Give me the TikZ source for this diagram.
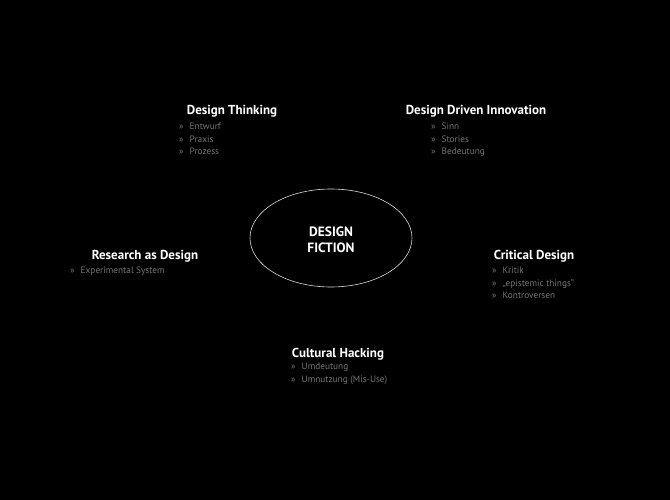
\documentclass[tikz,border=0pt]{standalone}
\usepackage{fontspec}
\setmainfont{PT Sans}
\usetikzlibrary{shapes.geometric}

\definecolor{itemgrey}{HTML}{747474}
\newcommand{\bul}{\makebox[10.5pt][l]{»}}

\tikzset{
	heading/.style={anchor=base, inner sep=0pt, text=white, font=\fontsize{13}{15}\selectfont\bfseries},
	itemlist/.style={anchor=north west, inner sep=0pt, align=left, text=itemgrey, font=\fontsize{9.3}{12.4}\selectfont}
}

\begin{document}
\begin{tikzpicture}[x=1pt, y=-1pt]
			\fill[black]	(0, 0) rectangle (670, 500);
			\useasboundingbox	(0, 0) rectangle (670, 500);

			% centre
			\node[draw=white!85!black, line width=0.6pt, ellipse, minimum width=162pt, minimum height=98pt, inner sep=0pt]	(fiction) at (331, 238) {};
			\node[text=white, align=center, font=\fontsize{13.5}{16}\selectfont\bfseries]	(fictiontext) at ([yshift=-2pt]fiction.center) {DESIGN\\FICTION};

			% design thinking
			\node[heading]	(thinking) at (232, 115) {Design Thinking};
			\node[itemlist]	(thinkinglist) at (179, 123) {\bul Entwurf\\\bul Praxis\\\bul Prozess};

			% design driven innovation
			\node[heading]	(innovation) at (476, 115) {Design Driven Innovation};
			\node[itemlist]	(innovationlist) at (431, 123) {\bul Sinn\\\bul Stories\\\bul Bedeutung};

			% research as design
			\node[heading]	(research) at (145, 259) {Research as Design};
			\node[itemlist]	(researchlist) at (70, 267) {\bul Experimental System};

			% critical design
			\node[heading]	(critical) at (534, 259) {Critical Design};
			\node[itemlist]	(criticallist) at (492, 267) {\bul Kritik\\\bul „epistemic things“\\\bul Kontroversen};

			% cultural hacking
			\node[heading]	(hacking) at (338, 357) {Cultural Hacking};
			\node[itemlist]	(hackinglist) at (291, 363) {\bul Umdeutung\\\bul Umnutzung (Mis-Use)};
		\end{tikzpicture}
\end{document}
